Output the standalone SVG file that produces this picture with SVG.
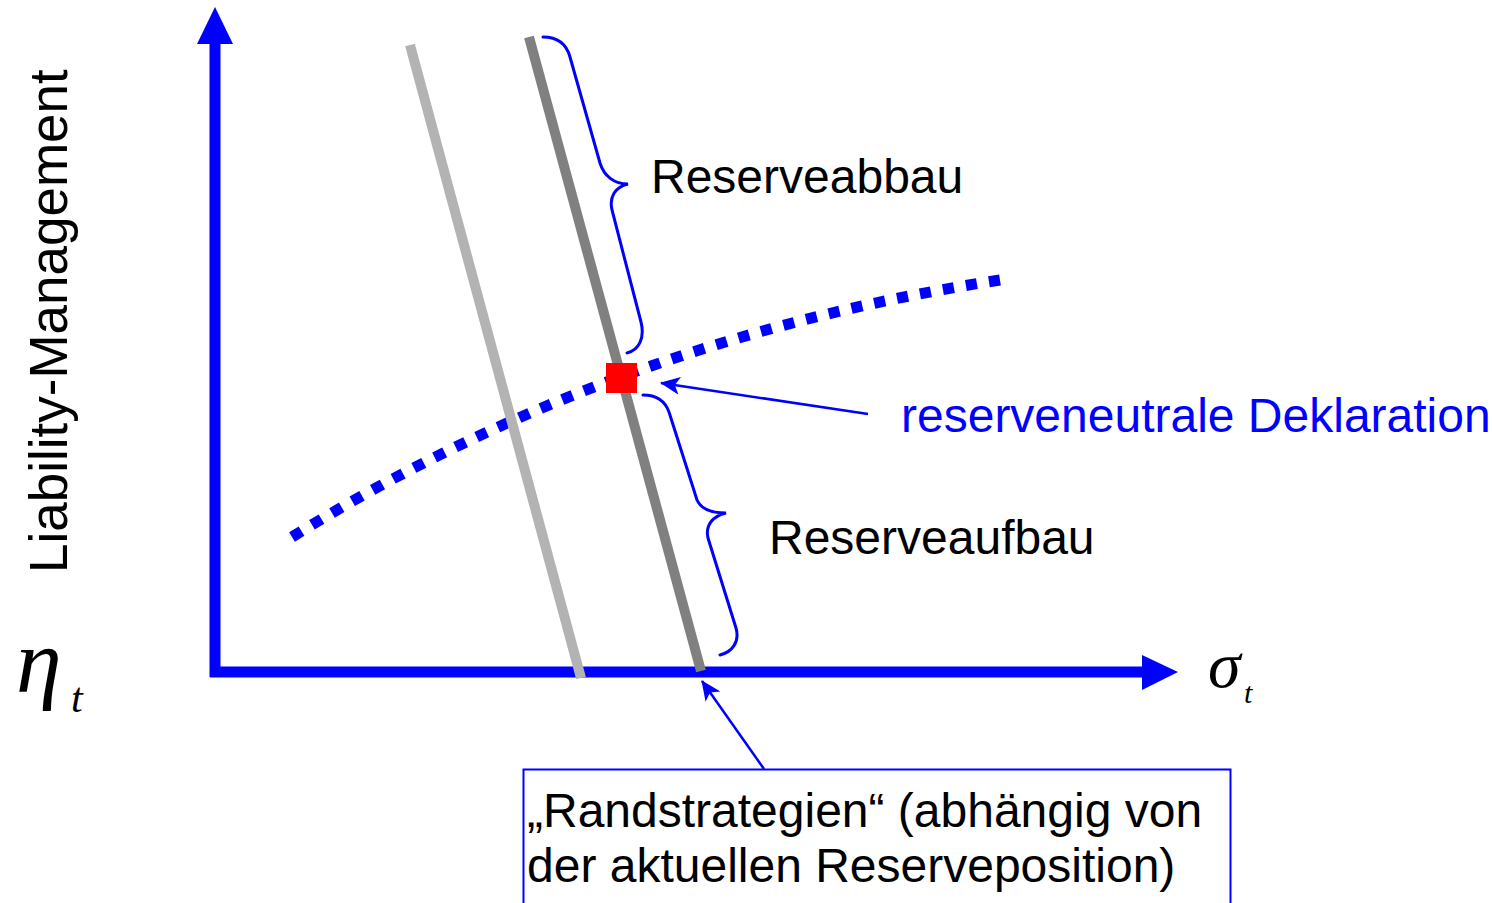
<svg xmlns="http://www.w3.org/2000/svg" width="1492" height="903" viewBox="0 0 1492 903">
<defs>
<style>
.lbl{font-family:"Liberation Sans",Arial,sans-serif;font-size:48px;fill:#000}
.blue{fill:#0000ff}
.math{font-family:"Liberation Serif","Times New Roman",serif;font-style:italic;fill:#000}
.thin{stroke:#0000ff;stroke-width:2.5;fill:none}
.brace{stroke:#0000ff;stroke-width:3;fill:none;stroke-linecap:round}
</style>
<marker id="ah" markerUnits="userSpaceOnUse" markerWidth="20" markerHeight="18" viewBox="0 0 20 18" refX="19" refY="9" orient="auto">
<path d="M0,0 L20,9 L0,18 L5,9 Z" fill="#0000ff"/>
</marker>
</defs>
<rect width="1492" height="903" fill="#fff"/>
<g id="curve">
<path d="M292,537 Q610,340 1000,280" fill="none" stroke="#0000ff" stroke-width="11" stroke-dasharray="11 12" pathLength="747"/>
</g>
<g id="axes">
<line x1="215" y1="677" x2="215" y2="40" stroke="#0000ff" stroke-width="11"/>
<polygon points="215,7 197,44 233,44" fill="#0000ff"/>
<line x1="210" y1="672" x2="1145" y2="672" stroke="#0000ff" stroke-width="11"/>
<polygon points="1178,672 1142,655 1142,690" fill="#0000ff"/>
</g>
<g id="strategy-lines">
<line x1="410" y1="45" x2="581" y2="678" stroke="#b3b3b3" stroke-width="10"/>
<line x1="529" y1="37" x2="701" y2="671" stroke="#808080" stroke-width="10"/>
</g>
<g id="point">
<rect x="606" y="363" width="31" height="30" fill="#ff0000"/>
</g>
<g id="braces">
<path class="brace" d="M543,37 C560,37 567,46 570,57 L600,163 C604,176 614,184 628,184 C615,187 609,197 612,210 L641,322 C645,338 639,350 627,353"/>
<path class="brace" d="M643,395 C656,395 665,401 669,412 L697,500 C701,509 712,513 726,513 C713,516 705,525 708,538 L736,628 C740,642 732,652 720,655"/>
</g>
<g id="connectors">
<line class="thin" x1="868" y1="414" x2="661" y2="383" marker-end="url(#ah)"/>
<line class="thin" x1="764" y1="769" x2="702" y2="681" marker-end="url(#ah)"/>
</g>
<g id="label-abbau"><text class="lbl" x="651" y="193">Reserveabbau</text></g>
<g id="label-aufbau"><text class="lbl" x="769" y="554">Reserveaufbau</text></g>
<g id="label-neutral"><text class="lbl blue" x="901" y="432">reserveneutrale Deklaration</text></g>
<g id="label-y"><text class="lbl" style="font-size:53px" transform="translate(67,573) rotate(-90)">Liability-Management</text></g>
<g id="eta"><text class="math" x="16" y="692" font-size="92">η</text><text class="math" x="71" y="712" font-size="42">t</text></g>
<g id="sigma"><text class="math" x="1208" y="687" font-size="66">σ</text><text class="math" x="1244" y="703" font-size="30">t</text></g>
<g id="box">
<rect x="523.5" y="769.5" width="707" height="160" fill="none" stroke="#0000ff" stroke-width="2"/>
<text class="lbl" x="527" y="827">„Randstrategien“ (abhängig von</text>
<text class="lbl" x="527" y="882">der aktuellen Reserveposition)</text>
</g>
</svg>
